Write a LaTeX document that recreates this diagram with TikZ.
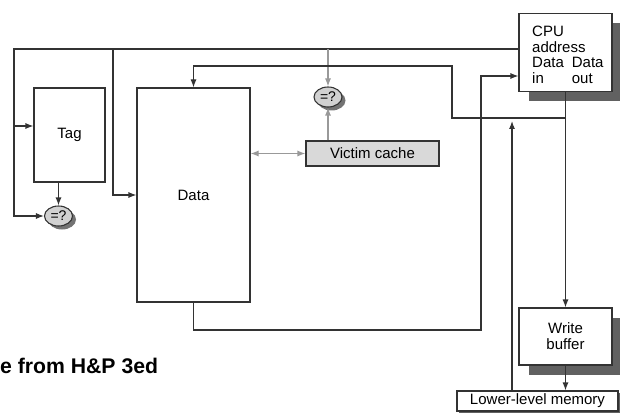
\documentclass[tikz,border=0pt]{standalone}
\usepackage{fontspec}
\setmainfont{Liberation Sans}
\usetikzlibrary{arrows.meta,shapes.geometric,shadows,calc}

\begin{document}
\begin{tikzpicture}[x=1pt,y=-1pt,
  wire/.style={draw=black!80, line width=1.1pt},
  faint/.style={draw=black!40, line width=1.1pt},
  tip/.style={-{Latex[length=8pt,width=6pt]}},
  blk/.style={draw=black!80, line width=1.1pt, fill=white, inner sep=0pt, font=\fontsize{15}{16}\selectfont, align=center},
  boxshadow/.style={general shadow={fill=black!62, shadow xshift=#1, shadow yshift=-#1}},
  cmp/.style={ellipse, draw=black!80, line width=1.1pt, fill=black!18, minimum width=28pt, minimum height=20pt, inner sep=0pt, font=\fontsize{14}{14}\selectfont, general shadow={fill=black!55, shadow xshift=3.5pt, shadow yshift=-3.5pt}}]
  \useasboundingbox (0,0) rectangle (620,414);
  \node[blk, minimum width=71pt, minimum height=94pt] (tag) at (69.5,135) {Tag};
  \node[blk, minimum width=113pt, minimum height=214pt] (data) at (193.5,195) {Data};
  \node[blk, fill=black!15, minimum width=133pt, minimum height=25pt] (victim) at (372.5,153.5) {Victim cache};
  \node[blk, boxshadow=10pt, minimum width=93pt, minimum height=78pt] (cpu) at (565.5,52.5) {};
  \node[font=\fontsize{15}{15.5}\selectfont, align=left, anchor=north west, inner sep=0pt] (cpulbl) at (532,26) {CPU\\address\\Data\hspace{8pt}Data\\\rlap{in}\hphantom{Data}\hspace{8pt}out};
  \node[blk, boxshadow=10pt, minimum width=93pt, minimum height=57pt] (wbuf) at (565.5,336.5) {Write\\buffer};
  \node[blk, boxshadow=2pt, minimum width=161pt, minimum height=20pt] (lower) at (537.5,401) {Lower-level memory};
  \node[cmp] (cmpa) at (58.5,216) {=?};
  \node[cmp] (cmpb) at (328,97) {=?};
  \node[font=\bfseries\fontsize{21.2}{23}\selectfont, anchor=base west, inner sep=0pt] (credit) at (0,373) {e from H\&P 3ed};
  \coordinate (bus) at (14,49);
  \coordinate (tap) at (113,49);
  \coordinate (tagin) at ($(tag.west)+(0,-9)$);
  \coordinate (dout) at (566,118);
  \coordinate (turn) at (452,66);
  \coordinate (loop) at (481,330);
  \coordinate (din) at ($(cpu.west)+(0,23.5)$);
  \coordinate (up) at (512,121);
  \draw[wire,tip] (cpu.west |- bus) -- (bus) |- (cmpa.west);
  \draw[wire,tip] (bus |- tagin) -- (tagin);
  \draw[wire,tip] (tap) |- (data.west);
  \draw[wire,tip] (tag.south -| cmpa) -- (cmpa.north);
  \draw[faint,tip] (tap -| cmpb) -- (cmpb.north);
  \draw[faint,tip] (victim.north -| cmpb) -- (cmpb.south);
  \draw[faint,{Latex[length=8pt,width=6pt]}-{Latex[length=8pt,width=6pt]}] (data.east |- victim) -- (victim.west);
  \draw[wire,tip] (cpu.south) -- (wbuf.north);
  \draw[wire,tip] (dout) -| (turn) -| (data.north);
  \draw[wire,tip] (data.south) |- (loop) |- (din);
  \draw[wire,tip] (lower.north -| up) -- (up);
  \draw[wire,tip] (wbuf.south) -- (wbuf.south |- lower.north);
\end{tikzpicture}
\end{document}
